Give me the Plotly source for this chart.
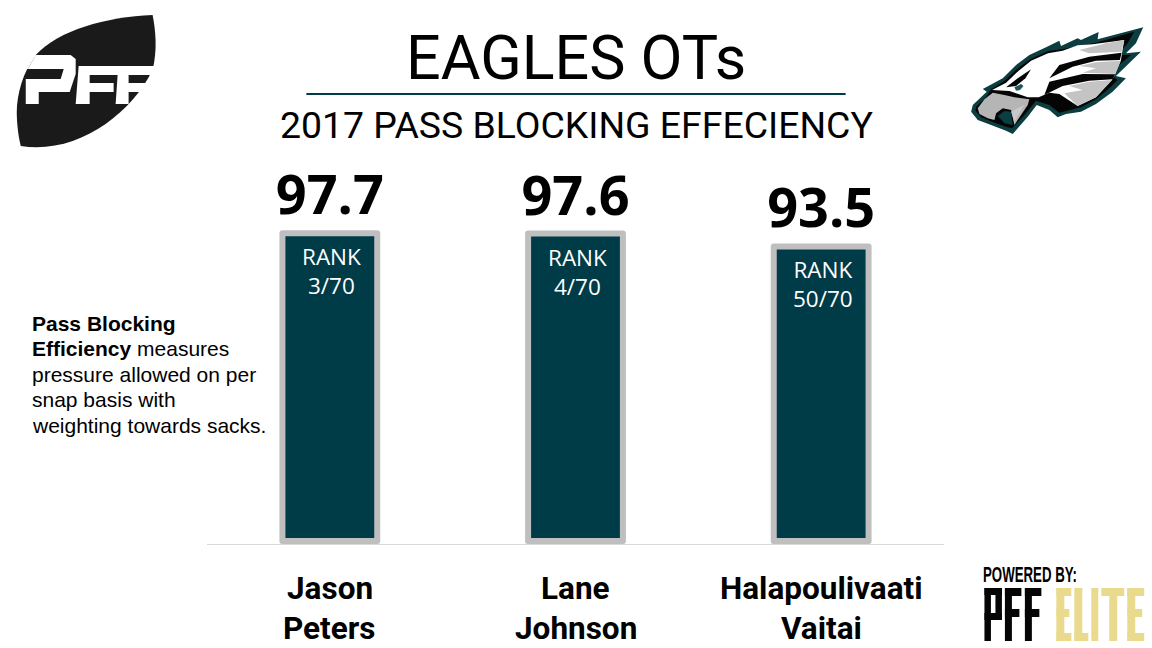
import plotly.graph_objects as go

# ---- data ----
players = ["Jason Peters", "Lane Johnson", "Halapoulivaati Vaitai"]
first_lines = ["Jason", "Lane", "Halapoulivaati"]
second_lines = ["Peters", "Johnson", "Vaitai"]
grades = [97.7, 97.6, 93.5]
ranks = ["3/70", "4/70", "50/70"]
note_lines = ["<b>Pass Blocking</b>", "<b>Efficiency</b> measures", "pressure allowed on per",
              "snap basis with", "weighting towards sacks."]

W, H = 1152, 648
L, R, T, B = 206.5, 944.5, 163, 544
TEAL = "#003b48"
BAR_EDGE = "#bfbfbf"


def px(x, y):
    return (x - L) / (R - L), (B - y) / (B - T)


def poly(points, fill, line=None, lw=0):
    d = ""
    for i, (x, y) in enumerate(points):
        a, b = px(x, y)
        d += f"{'M' if i == 0 else 'L'}{a:.5f},{b:.5f} "
    return dict(type="path", xref="paper", yref="paper", path=d + "Z", fillcolor=fill,
                line=dict(color=line or fill, width=lw), layer="above")


def curve(cmds, fill):
    d = ""
    for c, pts in cmds:
        d += c + " ".join("%.5f,%.5f" % px(*p) for p in pts) + " "
    return dict(type="path", xref="paper", yref="paper", path=d + "Z", fillcolor=fill,
                line=dict(width=0), layer="above")


def rect(x0, y0, x1, y1, fill):
    return poly([(x0, y0), (x1, y0), (x1, y1), (x0, y1)], fill)


shapes = []
# --- PFF football logo ---
INK = "#1a1a1a"
shapes.append(curve([("M", [(152, 15)]),
                     ("C", [(105, 17), (58, 30), (35, 55)]),
                     ("C", [(22, 72), (16, 95), (16, 112)]),
                     ("C", [(16, 125), (18, 138), (20, 146)]),
                     ("C", [(75, 155), (130, 115), (152, 70)]),
                     ("C", [(157, 50), (155, 30), (152, 15)])], INK))
shapes.append(poly([(35, 55), (70, 55), (75, 59), (75, 74), (69, 92), (38, 92), (38, 104), (25, 104),
                    (25, 79), (60, 79), (63, 69), (27, 69)], "#ffffff"))
shapes.append(poly([(15, 55), (35, 55), (27, 69), (15, 69)], "#ffffff"))
shapes.append(poly([(78, 66), (154, 66), (152, 75), (89, 75), (89, 83), (113, 83), (113, 92),
                    (89, 92), (89, 104), (75, 104)], "#ffffff"))
shapes.append(poly([(117, 75), (128, 75), (128, 83), (148, 83), (144, 92), (128, 92), (128, 104),
                    (115, 104)], "#ffffff"))


# --- Eagle logo (offset 950,10, scale 3) ---
def e(points):
    return [(950 + x / 3, 10 + y / 3) for x, y in points]


outline = [(582, 52), (445, 88), (448, 66), (395, 90), (385, 85), (335, 108), (330, 92), (290, 112),
           (240, 135), (200, 165), (160, 205), (100, 237), (112, 245), (70, 285), (65, 305), (85, 330),
           (125, 345), (170, 362), (190, 372), (235, 320), (262, 285), (300, 300), (325, 322),
           (350, 312), (395, 305), (440, 282), (490, 245), (530, 205), (500, 198), (575, 125),
           (530, 130), (560, 100)]
black = [(555, 65), (440, 98), (400, 105), (340, 118), (300, 122), (245, 146), (205, 175), (165, 213),
         (125, 238), (110, 262), (80, 290), (78, 302), (95, 322), (128, 335), (170, 350), (188, 355),
         (225, 315), (260, 272), (300, 285), (330, 308), (395, 292), (440, 268), (480, 235), (505, 210),
         (480, 190), (545, 135), (505, 135), (535, 100)]
white = [(525, 90), (430, 103), (385, 106), (340, 122), (296, 130), (245, 152), (208, 182), (170, 218),
         (128, 240), (180, 243), (200, 250), (235, 262), (268, 262), (300, 248), (330, 252), (385, 288),
         (440, 262), (488, 210), (497, 195), (515, 150)]
grey1 = [(525, 90), (470, 100), (390, 120), (420, 130), (517, 125)]
stripe1 = [(517, 128), (512, 150), (440, 152), (370, 170), (300, 205), (330, 165), (420, 140)]
grey2 = [(515, 152), (440, 157), (390, 168), (440, 175), (400, 188), (497, 192)]
stripe2 = [(498, 193), (490, 208), (420, 212), (340, 228), (285, 255), (300, 215), (400, 192)]
grey3 = [(488, 210), (420, 215), (360, 228), (400, 240), (345, 250), (385, 288), (440, 262)]
brow = [(245, 178), (205, 205), (170, 232), (200, 228), (228, 205)]
beak = [(130, 248), (165, 255), (195, 262), (240, 268), (235, 285), (195, 345), (185, 300), (160, 295),
        (140, 310), (135, 330), (115, 325), (90, 312), (85, 295), (105, 268)]
mouth_dark = [(145, 318), (165, 303), (185, 305), (190, 345), (165, 340)]
mandible = [(185, 305), (205, 295), (225, 285), (195, 335)]
eye = [(195, 232), (215, 222), (222, 228), (212, 240), (200, 242)]
for pts, col in [(outline, "#0b3d41"), (black, "#050505"), (white, "#ffffff"), (grey1, "#c4c4c4"),
                 (stripe1, "#050505"), (grey2, "#c4c4c4"), (stripe2, "#050505"), (grey3, "#c4c4c4"),
                 (brow, "#050505"), (beak, "#b5b5b5"), (mouth_dark, "#0b3d41"), (mandible, "#c9c9c9"),
                 (eye, "#23545a")]:
    shapes.append(poly(e(pts), col))

# --- PFF ELITE wordmark block letters ---
TOP, BOT = 588, 641
DARK = "#050505"
GOLD = "#e9da8d"


def letter_f(x, w, col, s=8):
    return [rect(x, TOP, x + s, BOT, col), rect(x, TOP, x + w, TOP + 8, col),
            rect(x, TOP + 21, x + w - 2, TOP + 29, col)]


def letter_e(x, w, col):
    return letter_f(x, w, col) + [rect(x, BOT - 8, x + w, BOT, col)]


shapes += [rect(985, TOP, 991.5, BOT, DARK), rect(985, TOP, 1002.5, TOP + 7, DARK),
           rect(985, TOP + 25, 1002.5, TOP + 32, DARK), rect(996, TOP, 1002.5, TOP + 32, DARK)]
shapes += letter_f(1005.5, 16.5, DARK, 7) + letter_f(1025.5, 16.5, DARK, 7)
shapes += letter_e(1057, 15, GOLD)
shapes += [rect(1075, TOP, 1083, BOT, GOLD), rect(1075, BOT - 8, 1089, BOT, GOLD)]
shapes += [rect(1092, TOP, 1099, BOT, GOLD)]
shapes += [rect(1102, TOP, 1125, TOP + 8, GOLD), rect(1110, TOP, 1118, BOT, GOLD)]
shapes += letter_e(1128, 17, GOLD)

# title rule
shapes.append(dict(type="line", xref="paper", yref="paper", x0=px(306, 0)[0], x1=px(846, 0)[0],
                   y0=px(0, 94)[1], y1=px(0, 94)[1], line=dict(color=TEAL, width=2)))

fig = go.Figure(go.Bar(
    x=players, y=grades, width=0.386,
    marker=dict(color=TEAL, line=dict(color=BAR_EDGE, width=6)),
    text=[f"{g:.1f}" for g in grades], textposition="outside",
    textfont=dict(family="Open Sans", size=54, color="#000000", weight="bold"),
    constraintext="none", cliponaxis=False,
))

ann = []


def txt(x, y, s, size, family="Roboto", color="#000000", xanchor="center", **kw):
    a, b = px(x, y)
    ann.append(dict(x=a, y=b, xref="paper", yref="paper", text=s, showarrow=False, xanchor=xanchor,
                    yanchor="middle", align="left" if xanchor == "left" else "center",
                    font=dict(family=family, size=size, color=color, **kw)))


txt(576.5, 58, "EAGLES OTs", 61)
txt(576.5, 125, "2017 PASS BLOCKING EFFECIENCY", 37.4)
for i, line in enumerate(note_lines):
    txt(29.5, 323 + 25.5 * i, line, 21, family="Liberation Sans", xanchor="left")
txt(1031, 574, "POWERED BY:", 22, family="Liberation Sans", xanchor="center", weight="bold")

for p, f, s, g, r in zip(players, first_lines, second_lines, grades, ranks):
    ann.append(dict(x=p, y=g, xref="x", yref="y", yanchor="top", yshift=-6, xshift=2, showarrow=False,
                    text=f"RANK<br>{r}", font=dict(family="Open Sans", size=22.5, color="#ffffff")))
    for line, ypx in ((f, 588), (s, 628)):
        ann.append(dict(x=p, xref="x", y=px(0, ypx)[1], yref="paper", yanchor="middle", showarrow=False,
                        text=line, font=dict(family="Roboto", size=31.5, color="#000000", weight="bold")))

fig.update_layout(
    width=W, height=H, autosize=False, showlegend=False,
    margin=dict(l=L, r=W - R, t=T, b=H - B),
    paper_bgcolor="#ffffff", plot_bgcolor="#ffffff",
    xaxis=dict(showticklabels=False, ticks="", showgrid=False, showline=True, linecolor="#d9d9d9",
               linewidth=1, zeroline=False),
    yaxis=dict(range=[-0.95, 120], visible=False, showgrid=False, zeroline=False),
    shapes=shapes, annotations=ann,
)
post = """
document.documentElement.style.overflow='hidden';
document.body.style.margin='0';
document.querySelectorAll('.annotation-text').forEach(function(t){
  if(t.textContent==='POWERED BY:'){t.setAttribute('textLength','94');t.setAttribute('lengthAdjust','spacingAndGlyphs');}
});
document.querySelectorAll('.bars .point path').forEach(function(p){p.style.strokeLinejoin='round';});
"""
fig.write_html("out.html", config={"displayModeBar": False}, post_script=post)
